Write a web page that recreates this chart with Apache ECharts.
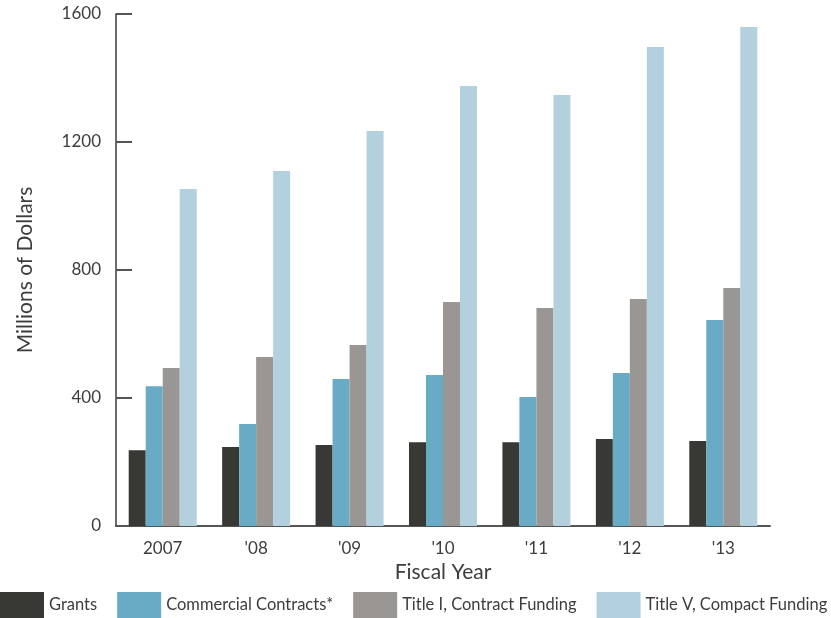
<!DOCTYPE html>
<html>
<head>
<meta charset="utf-8">
<script src="https://cdn.jsdelivr.net/npm/echarts@6/dist/echarts.min.js"></script>
<style>
html,body{margin:0;padding:0;background:#fff;}
#chart{width:831px;height:618px;}
</style>
</head>
<body>
<div id="chart"></div>
<script>
var categories = ["2007", "'08", "'09", "'10", "'11", "'12", "'13"];
var grants = [237, 247, 253, 262, 262, 272, 266];
var commercial = [437, 319, 459, 472, 403, 478, 644];
var titleI = [494, 528, 566, 700, 681, 709, 744];
var titleV = [1053, 1109, 1234, 1375, 1347, 1497, 1559];
var seriesNames = ["Grants", "Commercial Contracts*", "Title I, Contract Funding", "Title V, Compact Funding"];
var colors = ["#383834", "#69aac4", "#9a9693", "#b3d0de"];

var FONT = "Lato";
var TXT = '#3d3d3d';
var chart = echarts.init(document.getElementById('chart'), null, {renderer: 'canvas'});
function mk(i, data) {
  return {
    name: seriesNames[i], type: 'bar', data: data,
    barWidth: 17, barGap: '0%',
    itemStyle: {color: colors[i]},
    emphasis: {disabled: true}
  };
}
chart.setOption({
  animation: false,
  color: colors,
  textStyle: {fontFamily: FONT},
  grid: {left: 116, right: 61, top: 14, bottom: 92, containLabel: false},
  legend: {
    left: 0, top: 592, width: 831, padding: 0, itemWidth: 44, itemHeight: 26, itemGap: 20,
    icon: 'rect',
    textStyle: {fontFamily: FONT, fontSize: 16.5, color: TXT},
    data: seriesNames
  },
  xAxis: {
    type: 'category', data: categories,
    name: 'Fiscal Year', nameLocation: 'middle', nameGap: 35,
    nameTextStyle: {fontFamily: FONT, fontSize: 21, color: TXT},
    axisLine: {lineStyle: {color: '#555', width: 2}},
    axisTick: {show: false},
    axisLabel: {fontFamily: FONT, fontSize: 17, color: TXT, margin: 14}
  },
  yAxis: {
    type: 'value', min: 0, max: 1600, interval: 400,
    name: 'Millions of Dollars', nameLocation: 'middle', nameGap: 80, nameRotate: 90,
    nameTextStyle: {fontFamily: FONT, fontSize: 21, color: TXT},
    axisLine: {show: true, lineStyle: {color: '#6d6d6d', width: 2}},
    axisTick: {show: true, inside: true, length: 16, lineStyle: {color: '#555', width: 2}},
    splitLine: {show: false},
    axisLabel: {fontFamily: FONT, fontSize: 17, color: TXT, margin: 15, formatter: function (v) { return String(v); }}
  },
  series: [mk(0, grants), mk(1, commercial), mk(2, titleI), mk(3, titleV)]
});
</script>
</body>
</html>
